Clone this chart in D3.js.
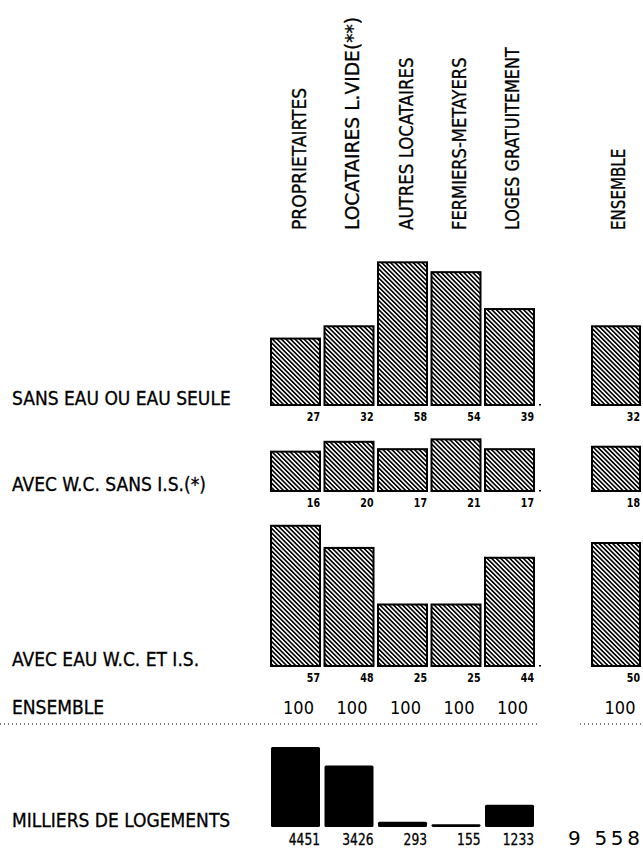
<!DOCTYPE html>
<html>
<head>
<meta charset="utf-8">
<script src="https://cdn.jsdelivr.net/npm/d3@7"></script>
<style>
  html, body { margin: 0; padding: 0; background: #fff; }
  svg { display: block; }
  text { fill: #000; }
</style>
</head>
<body>
<svg id="chart" width="643" height="849"></svg>
<script>
// ---------- DATA ----------
const categories = ["PROPRIETAIRTES", "LOCATAIRES L.VIDE(**)", "AUTRES LOCATAIRES", "FERMIERS-METAYERS", "LOGES GRATUITEMENT"];
const ensembleLabel = "ENSEMBLE";
const rowLabels = ["SANS EAU OU EAU SEULE", "AVEC W.C. SANS I.S.(*)", "AVEC EAU W.C. ET I.S."];
const sansEauOuEauSeule = [27, 32, 58, 54, 39];
const avecWcSansIS = [16, 20, 17, 21, 17];
const avecEauWcEtIS = [57, 48, 25, 25, 44];
const ensemblePct = [32, 18, 50];
const totalPct = [100, 100, 100, 100, 100];
const ensembleTotalPct = 100;
const totalRowLabel = "ENSEMBLE";
const logementsLabel = "MILLIERS DE LOGEMENTS";
const logements = [4451, 3426, 293, 155, 1233];
const logementsTotal = "9 558";

// ---------- LAYOUT ----------
const svg = d3.select("#chart");
const FONT = "'DejaVu Sans Condensed', 'DejaVu Sans', sans-serif";

const defs = svg.append("defs");
const pat = defs.append("pattern")
  .attr("id", "hatch")
  .attr("patternUnits", "userSpaceOnUse")
  .attr("width", 3.2).attr("height", 3.2)
  .attr("patternTransform", "rotate(-45)");
pat.append("rect").attr("width", 3.2).attr("height", 3.2).attr("fill", "#fff");
pat.append("line").attr("x1", 0.8).attr("y1", 0).attr("x2", 0.8).attr("y2", 3.2)
  .attr("stroke", "#000").attr("stroke-width", 1.7);

const x = d3.scaleBand().domain(categories).range([271, 534]).paddingInner(0.084).paddingOuter(0);
const xEns = d3.scaleBand().domain([ensembleLabel]).range([592, 640]).padding(0);
const pctH = d3.scaleLinear().domain([0, 100]).range([0, 246]);
const logH = d3.scaleLinear().domain([0, d3.max(logements)]).range([0, 80]);

const rows = [
  { label: rowLabels[0], values: sansEauOuEauSeule, ens: ensemblePct[0], base: 405 },
  { label: rowLabels[1], values: avecWcSansIS, ens: ensemblePct[1], base: 491 },
  { label: rowLabels[2], values: avecEauWcEtIS, ens: ensemblePct[2], base: 666 }
];

// column headers (rotated)
const headers = categories.map(c => ({ name: c, cx: x(c) + x.bandwidth() / 2 + 3 }))
  .concat([{ name: ensembleLabel, cx: xEns(ensembleLabel) + xEns.bandwidth() / 2 + 2 }]);
svg.append("g").selectAll("text").data(headers).join("text")
  .attr("transform", d => `translate(${d.cx + 7},230) rotate(-90)`)
  .attr("font-family", FONT).attr("font-size", 20)
  .attr("stroke", "#000").attr("stroke-width", 0.3)
  .attr("textLength", d => d.name.length * 10.15)
  .attr("lengthAdjust", "spacingAndGlyphs")
  .text(d => d.name);

// rows of hatched bars
rows.forEach(r => {
  const g = svg.append("g");
  const data = categories.map((c, i) => ({ c, v: r.values[i], x0: x(c), w: x.bandwidth() }))
    .concat([{ c: ensembleLabel, v: r.ens, x0: xEns(ensembleLabel), w: xEns.bandwidth() }]);
  g.selectAll("rect").data(data).join("rect")
    .attr("x", d => d.x0).attr("width", d => d.w)
    .attr("y", d => r.base - pctH(d.v)).attr("height", d => pctH(d.v))
    .attr("fill", "url(#hatch)").attr("stroke", "#000").attr("stroke-width", 2);
  g.selectAll("text.v").data(data).join("text").attr("class", "v")
    .attr("x", d => d.x0 + d.w).attr("y", r.base + 16)
    .attr("text-anchor", "end")
    .attr("font-family", FONT).attr("font-weight", "bold").attr("font-size", 12.5)
    .attr("textLength", d => String(d.v).length * 6.6).attr("lengthAdjust", "spacingAndGlyphs")
    .text(d => d.v);
  // row label
  svg.append("text").attr("x", 12).attr("y", r.base)
    .attr("font-family", FONT).attr("font-size", 19)
    .attr("stroke", "#000").attr("stroke-width", 0.3)
    .text(r.label);
  // small end dot
  svg.append("rect").attr("x", x.range()[1] + 5).attr("y", r.base - 1).attr("width", 2).attr("height", 1.5).attr("fill", "#000");
});

// ENSEMBLE totals row
svg.append("text").attr("x", 12).attr("y", 714)
  .attr("font-family", FONT).attr("font-size", 19)
  .attr("stroke", "#000").attr("stroke-width", 0.3).text(totalRowLabel);
svg.append("g").selectAll("text").data(categories.map((c, i) => ({ c, v: totalPct[i] }))).join("text")
  .attr("x", d => x(d.c) + x.bandwidth() / 2 + 3).attr("y", 714)
  .attr("text-anchor", "middle").attr("font-family", FONT).attr("font-size", 18)
  .text(d => d.v);
svg.append("text").attr("x", xEns(ensembleLabel) + xEns.bandwidth() / 2 + 4).attr("y", 714)
  .attr("text-anchor", "middle").attr("font-family", FONT).attr("font-size", 18)
  .text(ensembleTotalPct);

// dotted separators
svg.append("line").attr("x1", 0).attr("x2", 538).attr("y1", 724).attr("y2", 724)
  .attr("stroke", "#000").attr("stroke-width", 1).attr("stroke-dasharray", "1,3");
svg.append("line").attr("x1", 580).attr("x2", 643).attr("y1", 724).attr("y2", 724)
  .attr("stroke", "#000").attr("stroke-width", 1).attr("stroke-dasharray", "1,3");

// logements bars
const logBase = 827;
svg.append("text").attr("x", 12).attr("y", logBase)
  .attr("font-family", FONT).attr("font-size", 19)
  .attr("stroke", "#000").attr("stroke-width", 0.3).text(logementsLabel);
const ld = categories.map((c, i) => ({ c, v: logements[i] }));
svg.append("g").selectAll("rect").data(ld).join("rect")
  .attr("x", d => x(d.c)).attr("width", x.bandwidth())
  .attr("y", d => logBase - logH(d.v)).attr("height", d => logH(d.v))
  .attr("rx", 1.5)
  .attr("fill", "#000");
svg.append("g").selectAll("text").data(ld).join("text")
  .attr("x", d => x(d.c) + x.bandwidth()).attr("y", 845)
  .attr("text-anchor", "end").attr("font-family", FONT).attr("font-size", 16)
  .attr("stroke", "#000").attr("stroke-width", 0.3)
  .attr("textLength", d => String(d.v).length * 7.8).attr("lengthAdjust", "spacingAndGlyphs")
  .text(d => d.v);
svg.append("text").attr("x", 640).attr("y", 845)
  .attr("text-anchor", "end").attr("font-family", "'DejaVu Sans', sans-serif").attr("font-size", 20)
  .attr("textLength", 72).attr("lengthAdjust", "spacing")
  .text(logementsTotal);
</script>
</body>
</html>
